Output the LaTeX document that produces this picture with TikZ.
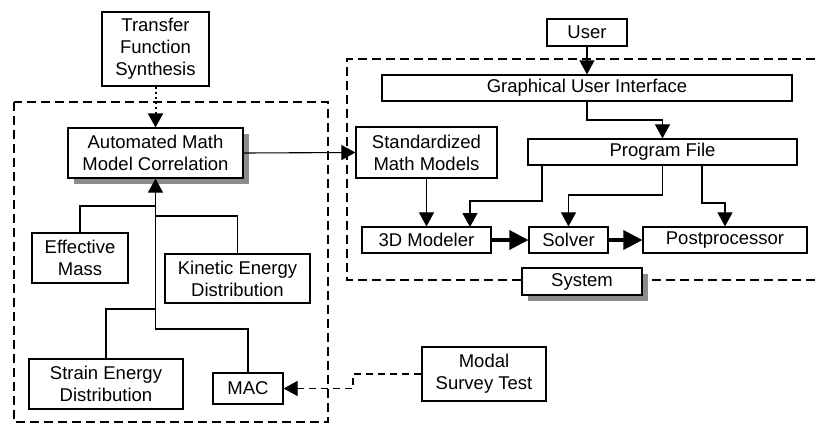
\documentclass[tikz,border=0pt]{standalone}
\usepackage{fontspec}
\setmainfont{Liberation Sans}
\usetikzlibrary{arrows.meta}
\begin{document}
\begin{tikzpicture}[x=1pt,y=-1pt,
  box/.style={draw,line width=1.2pt,fill=white,inner sep=0pt,align=center,
    font=\fontsize{18.5}{22}\selectfont},
  conn/.style={line width=1.1pt},
  arr/.style={conn,-{Triangle[length=14pt,width=15pt]}},
  thickarr/.style={line width=3.5pt,-{Triangle[length=19pt,width=19pt]}},
  region/.style={line width=1.1pt,dash pattern=on 9pt off 5pt},
  shadowfill/.style={fill=black!45}]
\useasboundingbox (0,0) rectangle (815,426);
% dashed regions
\draw[region] (14,102) rectangle (328,422);
\draw[region] (815,59) -- (347,59) -- (347,280) -- (815,280);
% shadows
\fill[shadowfill] (74,134) rectangle (249,184);
\fill[shadowfill] (528,274) rectangle (648,301);
% nodes
\node[box,minimum width=107pt,minimum height=74pt] (tfs) at (155.5,49) {Transfer\\Function\\Synthesis};
\node[box,minimum width=175pt,minimum height=50pt] (ammc) at (155.5,153) {Automated Math\\Model Correlation};
\node[box,minimum width=96pt,minimum height=50pt] (em) at (80,258) {Effective\\Mass};
\node[box,minimum width=145pt,minimum height=49pt] (ked) at (237.5,278.5) {Kinetic Energy\\Distribution};
\node[box,minimum width=154pt,minimum height=50pt] (sed) at (106,384) {Strain Energy\\Distribution};
\node[box,minimum width=70pt,minimum height=31pt] (mac) at (248,388.5) {MAC};
\node[box,minimum width=124pt,minimum height=54pt] (mst) at (484,374) {Modal\\Survey Test};
\node[box,minimum width=80pt,minimum height=27pt] (user) at (587,32.5) {User};
\node[box,minimum width=410pt,minimum height=26pt] (gui) at (587,88) {Graphical User Interface};
\node[box,minimum width=269pt,minimum height=26pt] (pf) at (662.5,152) {Program File};
\node[box,minimum width=141pt,minimum height=51pt] (smm) at (426.5,152.5) {Standardized\\Math Models};
\node[box,minimum width=129pt,minimum height=26pt] (m3d) at (426.5,240) {3D Modeler};
\node[box,minimum width=79pt,minimum height=26pt] (solver) at (568.5,240) {Solver};
\node[box,minimum width=164pt,minimum height=26pt] (post) at (725,240) {Postprocessor};
\node[box,minimum width=120pt,minimum height=27pt] (system) at (582,281.5) {System};
% junction coordinates
\coordinate (jem) at (155.5,206);
\coordinate (jked) at (155.5,216);
\coordinate (jsed) at (155.5,309);
\coordinate (jmac) at (155.5,329);
\coordinate (pfa) at (542,165);
\coordinate (pfa1) at (542,201);
\coordinate (pfa2) at (470,201);
\coordinate (m3dtop) at (470,227);
\coordinate (pfb1) at (662.5,195);
\coordinate (pfc) at (702,165);
\coordinate (pfc1) at (702,203);
\coordinate (guib) at (587,120);
\coordinate (mst1) at (353,374);
\coordinate (mst2) at (353,388.5);
% connectors
\draw[arr,line width=2pt,dash pattern=on 2.5pt off 2.5pt] (tfs.south) -- (ammc.north);
\draw[arr] (mac.north) |- (jmac) -- (ammc.south);
\draw[conn] (em.north) |- (jem);
\draw[conn] (ked.north) |- (jked);
\draw[conn] (sed.north) |- (jsed);
\draw[arr] (ammc.east) -- (smm.west);
\draw[arr] (user.south) -- (gui.north);
\draw[arr] (gui.south) -- (guib) -| (pf.north);
\draw[arr] (smm.south) -- (m3d.north);
\draw[arr] (pfa) -- (pfa1) -- (pfa2) -- (m3dtop);
\draw[arr] (pf.south) -- (pfb1) -| (solver.north);
\draw[arr] (pfc) -- (pfc1) -| (post.north);
\draw[thickarr] (m3d.east) -- (solver.west);
\draw[thickarr] (solver.east) -- (post.west);
\draw[arr,dash pattern=on 7pt off 5pt] (mst.west) -- (mst1) -- (mst2) -- (mac.east);
\end{tikzpicture}
\end{document}
